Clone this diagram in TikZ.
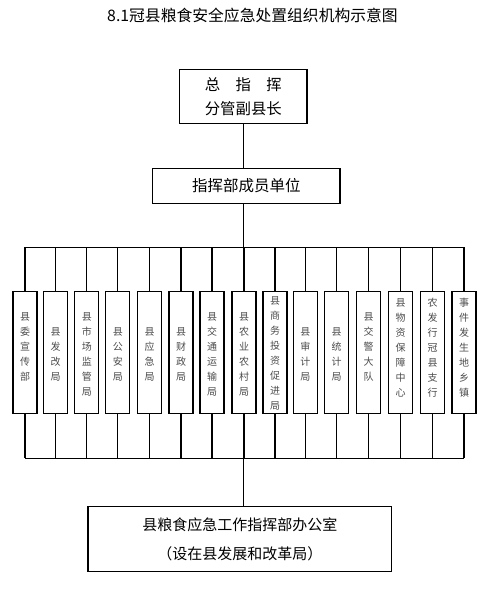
\documentclass[tikz,border=0pt]{standalone}
\usepackage{fontspec}
\setmainfont{Noto Sans CJK SC}
\begin{document}
\begin{tikzpicture}[x=1pt,y=-1pt,
  box/.style={draw, inner sep=0pt, line width=1.2pt, align=center},
  col/.style={box, minimum width=24pt, minimum height=122pt},
  coltxt/.style={align=center, inner sep=0pt, text=black!70, font=\fontsize{10}{15}\selectfont},
  link/.style={line width=1.2pt}]
\useasboundingbox (0,0) rectangle (494,600);
\node[inner sep=0pt, font=\fontsize{15.8}{18}\selectfont] (title) at (252.5,15) {8.1冠县粮食安全应急处置组织机构示意图};
\node[box, minimum width=127.5pt, minimum height=54pt, font=\fontsize{15.4}{24}\selectfont] (top) at (243.3,96.5) {总　指　挥\\分管副县长};
\node[box, minimum width=187.5pt, minimum height=35pt, font=\fontsize{15.5}{18}\selectfont] (mid) at (246.3,186) {指挥部成员单位};
\node[box, minimum width=303.8pt, minimum height=65pt, font=\fontsize{15}{28.3}\selectfont] (office) at (239.8,539.2) {县粮食应急工作指挥部办公室\\（设在县发展和改革局）};
\coordinate (tb) at (0,247.3);
\coordinate (bb) at (0,458.3);
\foreach \x/\yt/\t [count=\i] in {
  25/347/{县\\委\\宣\\传\\部},
  55.5/354.5/{县\\发\\改\\局},
  86.8/354.5/{县\\市\\场\\监\\管\\局},
  117.8/354.5/{县\\公\\安\\局},
  149.5/354.5/{县\\应\\急\\局},
  181/354.5/{县\\财\\政\\局},
  212/354.5/{县\\交\\通\\运\\输\\局},
  244/354.5/{县\\农\\业\\农\\村\\局},
  275/353.7/{县\\商\\务\\投\\资\\促\\进\\局},
  305.3/354.5/{县\\审\\计\\局},
  336.5/354.5/{县\\统\\计\\局},
  368.5/347/{县\\交\\警\\大\\队},
  400.5/347.5/{县\\物\\资\\保\\障\\中\\心},
  432.5/347.5/{农\\发\\行\\冠\\县\\支\\行},
  464/347.5/{事\\件\\发\\生\\地\\乡\\镇}} {
  \node[col] (b\i) at (\x,352.6) {};
  \node[coltxt] (t\i) at (\x,\yt) {\t};
  \draw[link] (b\i.north) -- (b\i.north |- tb);
  \draw[link] (b\i.south) -- (b\i.south |- bb);
}
\draw[link] (b1.north |- tb) -- (b15.north |- tb);
\draw[link] (b1.south |- bb) -- (b15.south |- bb);
\draw[link] (top.south) -- (top.south |- mid.north);
\draw[link] (top.south |- mid.south) -- (top.south |- tb);
\draw[link] (top.south |- bb) -- (top.south |- office.north);
\end{tikzpicture}
\end{document}
